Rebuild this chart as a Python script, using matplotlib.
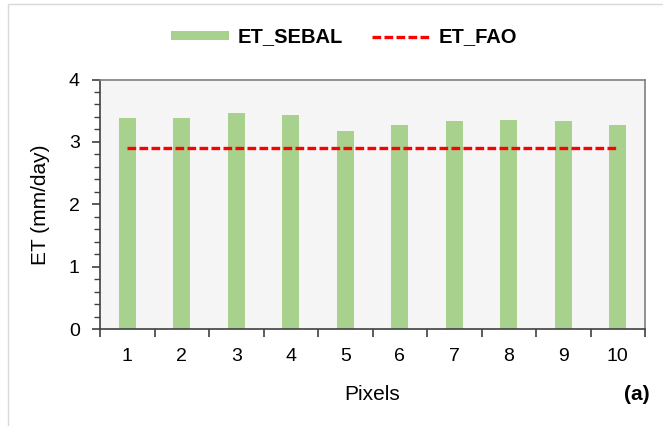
import numpy as np
import matplotlib.pyplot as plt
from matplotlib.patches import Rectangle
from matplotlib.ticker import MultipleLocator, FixedLocator

plt.rcParams['font.family'] = ['Liberation Sans', 'DejaVu Sans']

pixels = [1, 2, 3, 4, 5, 6, 7, 8, 9, 10]
et_sebal = [3.38, 3.38, 3.46, 3.43, 3.17, 3.27, 3.34, 3.35, 3.34, 3.27]
et_fao = [2.90, 2.90, 2.90, 2.90, 2.90, 2.90, 2.90, 2.90, 2.90, 2.90]

fig = plt.figure(figsize=(6.63, 4.26), dpi=100)
ax = fig.add_axes([100 / 663, 1 - 329 / 426, 545 / 663, 249.5 / 426])

# outer chart frame
fig.patches.append(Rectangle((8 / 663, -0.01), 1.0, 1 - 4 / 426 + 0.01,
                             transform=fig.transFigure, fill=False,
                             edgecolor='#d9d9d9', linewidth=1.0, zorder=0))

ax.set_facecolor('#f5f5f5')
ax.bar(pixels, et_sebal, width=0.31, color='#a9d18e', label='ET_SEBAL', zorder=2)
ax.plot(pixels, et_fao, color='#ff0000', linestyle=(0, (2.6, 1.0)), linewidth=2.4,
        label='ET_FAO', zorder=3)

ax.set_xlim(0.5, 10.5)
ax.set_ylim(0, 4)

# category boundaries get tick marks, centres get the labels
ax.xaxis.set_major_locator(FixedLocator(np.arange(0.5, 11, 1.0)))
ax.xaxis.set_minor_locator(FixedLocator(pixels))
ax.set_xticklabels([])
ax.set_xticklabels([str(p) for p in pixels], minor=True)
ax.tick_params(axis='x', which='major', direction='out', length=6, width=1.2,
               color='#404040')
ax.tick_params(axis='x', which='minor', length=0, pad=13.5, labelsize=14)

ax.yaxis.set_major_locator(MultipleLocator(1))
ax.yaxis.set_minor_locator(MultipleLocator(0.2))
ax.tick_params(axis='y', which='major', direction='out', length=6, width=1.2,
               color='#404040', labelsize=14, pad=8.5)
ax.tick_params(axis='y', which='minor', direction='out', length=4, width=1.0,
               color='#404040')

for side in ['left', 'bottom']:
    ax.spines[side].set_color('#404040')
    ax.spines[side].set_linewidth(1.2)
for side in ['top', 'right']:
    ax.spines[side].set_color('#7f7f7f')
    ax.spines[side].set_linewidth(1.2)

ax.set_xlabel('Pixels', fontsize=15, va='center')
ax.xaxis.set_label_coords(0.5, (329 - 394) / 249.5)
ax.set_ylabel('ET (mm/day)', fontsize=15, va='center')
ax.yaxis.set_label_coords((40 - 100) / 545, 0.5)

fig.text(650 / 663, 1 - 395 / 426, '(a)', fontsize=15, fontweight='bold',
         ha='right', va='center')

handles, labels = ax.get_legend_handles_labels()
leg = fig.legend(handles[::-1], labels[::-1], loc='center',
                 bbox_to_anchor=(344 / 663, 1 - 37 / 426),
                 ncol=2, frameon=False, prop={'weight': 'bold', 'size': 14.5},
                 handlelength=2.9, handleheight=0.3, columnspacing=1.45,
                 handletextpad=0.4)

fig.savefig('out.png', dpi=100)
